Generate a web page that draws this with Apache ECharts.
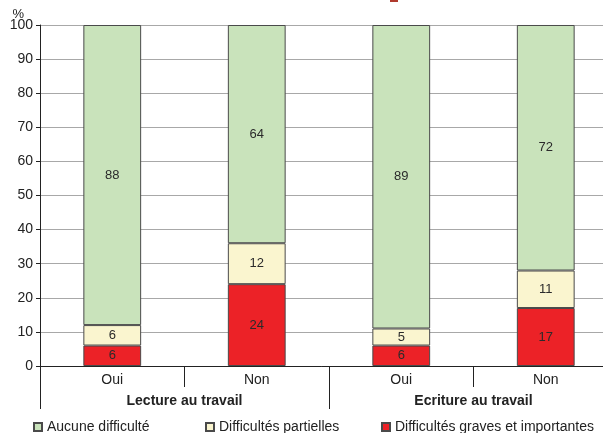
<!DOCTYPE html>
<html>
<head>
<meta charset="utf-8">
<script src="https://cdn.jsdelivr.net/npm/echarts@6/dist/echarts.min.js"></script>
<style>
html,body{margin:0;padding:0;background:#fff;}
#chart{width:603px;height:433px;}
</style>
</head>
<body>
<div id="chart"></div>
<script>
// categories
var categories = ['Oui', 'Non', 'Oui', 'Non'];
var groups = ['Lecture au travail', 'Ecriture au travail'];
// values (%)
var graves = [6, 24, 6, 17];
var partielles = [6, 12, 5, 11];
var aucune = [88, 64, 89, 72];
var seriesNames = ['Difficultés graves et importantes', 'Difficultés partielles', 'Aucune difficulté'];
var seriesColors = ['#ec2227', '#faf5cf', '#c9e3bb'];

var FONT = 'Liberation Sans, Arial, sans-serif';
var chart = echarts.init(document.getElementById('chart'));

function bar(name, data, color) {
	return {
		name: name,
		type: 'bar',
		stack: 'tot',
		barWidth: '40%',
		data: data,
		itemStyle: {color: color, borderColor: '#4a4a4a', borderWidth: 1},
		label: {
			show: true,
			position: 'inside',
			color: '#2b2b2b',
			fontSize: 13,
			fontFamily: FONT
		}
	};
}

function legendAt(left, name) {
	return {
		left: left,
		top: 415,
		data: [name],
		icon: 'rect',
		itemWidth: 8,
		itemHeight: 8,
		itemGap: 0,
		textStyle: {fontSize: 14, color: '#222', fontFamily: FONT}
	};
}

var option = {
	animation: false,
	// la grille depasse a droite (image rognee)
	grid: {left: 40, width: 578, top: 25, bottom: 67, containLabel: false, outerBoundsMode: 'none'},
	legend: [
		legendAt(28, seriesNames[2]),
		legendAt(200, seriesNames[1]),
		legendAt(376, seriesNames[0])
	],
	graphic: [{
		type: 'rect',
		shape: {x: 390, y: 0, width: 8, height: 2},
		style: {fill: '#b03a2e'}
	}],
	xAxis: [{
		type: 'category',
		data: categories,
		position: 'bottom',
		axisLine: {lineStyle: {color: '#222', width: 1}},
		axisTick: {show: true, length: 21, lineStyle: {color: '#222'}},
		axisLabel: {fontSize: 14, color: '#222', margin: 7, fontFamily: FONT}
	}, {
		type: 'category',
		data: groups,
		position: 'bottom',
		axisLine: {show: false},
		axisTick: {show: true, length: 43, lineStyle: {color: '#222'}},
		axisLabel: {fontSize: 14, fontWeight: 'bold', color: '#222', margin: 28, fontFamily: FONT}
	}],
	yAxis: {
		type: 'value',
		min: 0,
		max: 100,
		interval: 10,
		name: '%',
		nameLocation: 'end',
		nameGap: 11,
		nameMoveOverlap: false,
		nameTextStyle: {fontSize: 13, color: '#222', align: 'right', verticalAlign: 'middle', padding: [0, 16, 0, 0], fontFamily: FONT},
		axisLine: {show: true, lineStyle: {color: '#222'}},
		axisTick: {show: true, length: 4, lineStyle: {color: '#222'}},
		axisLabel: {fontSize: 14, color: '#222', margin: 7, fontFamily: FONT},
		splitLine: {lineStyle: {color: '#a8a8a8', width: 1}}
	},
	series: [
		bar(seriesNames[0], graves, seriesColors[0]),
		bar(seriesNames[1], partielles, seriesColors[1]),
		bar(seriesNames[2], aucune, seriesColors[2])
	]
};
chart.setOption(option);
</script>
</body>
</html>
